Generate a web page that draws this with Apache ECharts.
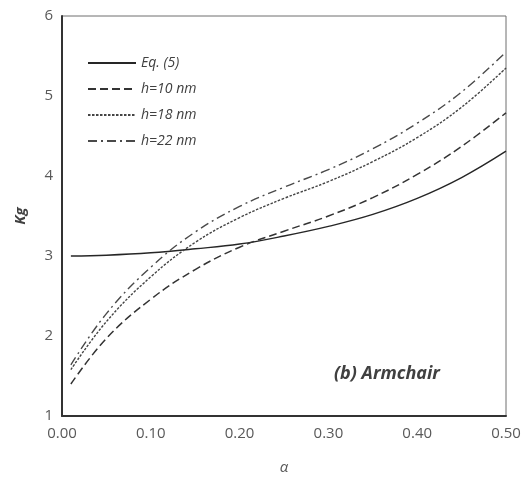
<!DOCTYPE html>
<html>
<head>
<meta charset="utf-8">
<script src="https://cdn.jsdelivr.net/npm/echarts@6/dist/echarts.min.js"></script>
<style>html,body{margin:0;padding:0;background:#fff}#c{width:525px;height:480px}</style>
</head>
<body>
<div id="c"></div>
<script>
const alphas = [0.01, 0.05, 0.10, 0.15, 0.20, 0.25, 0.30, 0.35, 0.40, 0.45, 0.50];
const eq5  = [3.00, 3.01, 3.04, 3.09, 3.15, 3.25, 3.37, 3.52, 3.72, 3.98, 4.31];
const h10  = [1.40, 1.97, 2.46, 2.83, 3.11, 3.31, 3.50, 3.73, 4.02, 4.37, 4.79];
const h18  = [1.58, 2.18, 2.74, 3.17, 3.48, 3.72, 3.93, 4.18, 4.48, 4.86, 5.35];
const h22  = [1.64, 2.28, 2.86, 3.30, 3.62, 3.86, 4.08, 4.34, 4.66, 5.05, 5.55];
const seriesNames = ['Eq. (5)', 'h=10 nm', 'h=18 nm', 'h=22 nm'];
const xTicks = { min: 0, max: 0.5, interval: 0.1 };
const yTicks = { min: 1, max: 6, interval: 1 };

const pair = (ys) => alphas.map((a, i) => [a, ys[i]]);
const styles = [
  { type: 'solid', color: '#262626', width: 1.4 },
  { type: [8, 4], color: '#333333', width: 1.5 },
  { type: [2.5, 1.5], color: '#444444', width: 1.4 },
  { type: [9, 4, 2, 4], color: '#4a4a4a', width: 1.4 }
];
const values = [eq5, h10, h18, h22];

const chart = echarts.init(document.getElementById('c'), null, { renderer: 'canvas' });
chart.setOption({
  animation: false,
  backgroundColor: '#ffffff',
  textStyle: { fontFamily: 'Open Sans' },
  grid: { left: 62, right: 19, top: 16, bottom: 56, show: true, borderColor: '#6e6e6e', borderWidth: 1 },
  legend: {
    orient: 'vertical', left: 82, top: 51,
    itemWidth: 48, itemHeight: 14, itemGap: 12,
    data: seriesNames,
    itemStyle: { opacity: 0, color: 'transparent', borderWidth: 0 },
    textStyle: { fontStyle: 'italic', fontSize: 14, color: '#404040', fontFamily: 'Open Sans' }
  },
  title: {
    text: '(b) Armchair', left: 329, top: 360,
    textStyle: { fontStyle: 'italic', fontWeight: 'bold', fontSize: 18, color: '#404040', fontFamily: 'Open Sans' }
  },
  xAxis: {
    type: 'value', min: xTicks.min, max: xTicks.max, interval: xTicks.interval,
    name: 'α', nameLocation: 'middle', nameGap: 44,
    nameTextStyle: { fontSize: 15, color: '#595959', fontStyle: 'italic' },
    axisLine: { show: true, lineStyle: { color: '#333333', width: 2 } },
    axisTick: { show: false },
    splitLine: { show: false },
    axisLabel: { color: '#595959', fontSize: 15, margin: 10, formatter: v => v.toFixed(2) }
  },
  yAxis: {
    type: 'value', min: yTicks.min, max: yTicks.max, interval: yTicks.interval,
    name: 'Kg', nameLocation: 'middle', nameGap: 34, nameRotate: 90,
    nameTextStyle: { fontSize: 15, color: '#404040', fontStyle: 'italic', fontWeight: 'bold' },
    axisLine: { show: true, lineStyle: { color: '#333333', width: 2 } },
    axisTick: { show: false },
    splitLine: { show: false },
    axisLabel: { color: '#595959', fontSize: 15, margin: 9 }
  },
  series: seriesNames.map((n, i) => ({
    name: n, type: 'line', data: pair(values[i]), smooth: 0.4,
    showSymbol: false, symbol: 'none',
    lineStyle: styles[i], itemStyle: { color: styles[i].color }
  }))
});
</script>
</body>
</html>
